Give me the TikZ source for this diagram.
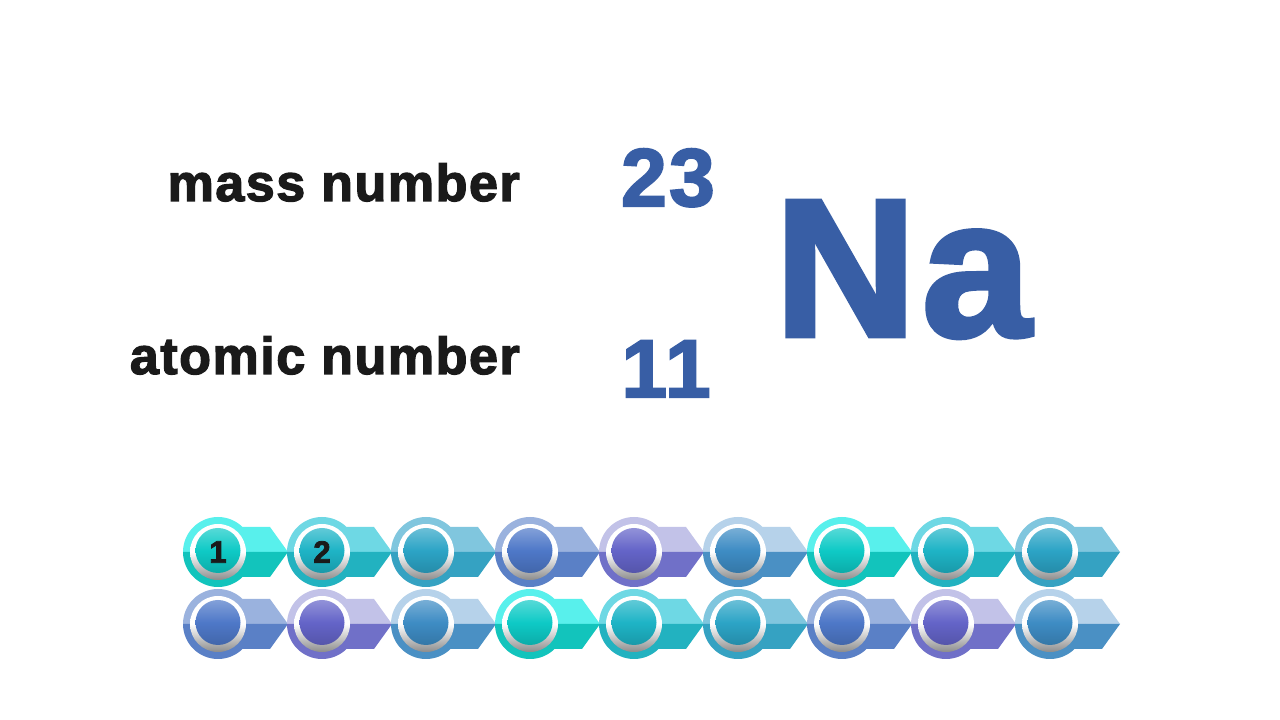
\documentclass[tikz,border=0pt]{standalone}
\usepackage{fontspec}
\setmainfont{Liberation Sans}
\newfontfamily\heavyfont[LetterSpace=3,FakeBold=2.5]{Liberation Sans Bold}
\usetikzlibrary{positioning}

\definecolor{inkblack}{HTML}{1A1A1A}
\definecolor{naBlue}{HTML}{385EA5}
\definecolor{light-a}{HTML}{58F0EC} \definecolor{dark-a}{HTML}{12C4BC} \definecolor{core-a}{HTML}{0ECAC6}
\definecolor{light-b}{HTML}{6ED8E4} \definecolor{dark-b}{HTML}{22B2C0} \definecolor{core-b}{HTML}{1EB4C6}
\definecolor{light-c}{HTML}{80C6DE} \definecolor{dark-c}{HTML}{35A2C2} \definecolor{core-c}{HTML}{2CA4C6}
\definecolor{light-d}{HTML}{9AB2DE} \definecolor{dark-d}{HTML}{5A80C6} \definecolor{core-d}{HTML}{4E78C8}
\definecolor{light-e}{HTML}{C2C2E8} \definecolor{dark-e}{HTML}{7070C8} \definecolor{core-e}{HTML}{6464C8}
\definecolor{light-f}{HTML}{B6D2EA} \definecolor{dark-f}{HTML}{4A90C4} \definecolor{core-f}{HTML}{3E8CC4}

\tikzset{
  pics/bead/.style={code={
    \fill[light-#1] (0,0) -- (0,25) -- (52,25) -- (70,0) -- cycle;
    \fill[dark-#1] (0,0) -- (0,-25) -- (52,-25) -- (70,0) -- cycle;
    \fill[light-#1] (35,0) arc (0:180:35) -- cycle;
    \fill[dark-#1] (-35,0) arc (180:360:35) -- cycle;
    \shade[top color=white, bottom color=black!45, middle color=white] (0,0) circle (28);
    \shade[top color=core-#1!70!white, bottom color=core-#1!85!black, middle color=core-#1] (0,1.5) circle (22.5);
  }}
}

\begin{document}
\begin{tikzpicture}[x=1pt,y=1pt]
          \useasboundingbox (0,0) rectangle (1280,720);
          \fill[white] (0,0) rectangle (1280,720);

          \begin{scope}[inner sep=0pt]
            \node (mass) [anchor=base east,text=inkblack] at (520,519) {\heavyfont\fontsize{52}{60}\selectfont mass number};
            \node (atomic) [anchor=base east,text=inkblack] at (520,346) {\heavyfont\fontsize{52}{60}\selectfont atomic number};
            \node (massval) [anchor=base,text=naBlue] at (668,514) {\heavyfont\fontsize{82}{90}\selectfont 23};
            \node (atomval) [anchor=base,text=naBlue] at (666,323) {\heavyfont\fontsize{82}{90}\selectfont 11};
            \node (symbol) [anchor=base,text=naBlue] at (903,384) {\heavyfont\fontsize{196}{200}\selectfont Na};
          \end{scope}

          \foreach \col [count=\i from 0] in {a,b,c,d,e,f,a,b,c}
            \pic at (218+104*\i,168) {bead=\col};
          \foreach \col [count=\i from 0] in {d,e,f,a,b,c,d,e,f}
            \pic at (218+104*\i,96) {bead=\col};

          \node (n1) [text=inkblack] at (218,168) {\heavyfont\fontsize{31}{34}\selectfont 1};
          \node (n2) [text=inkblack] at (322,168) {\heavyfont\fontsize{31}{34}\selectfont 2};
        \end{tikzpicture}
\end{document}
